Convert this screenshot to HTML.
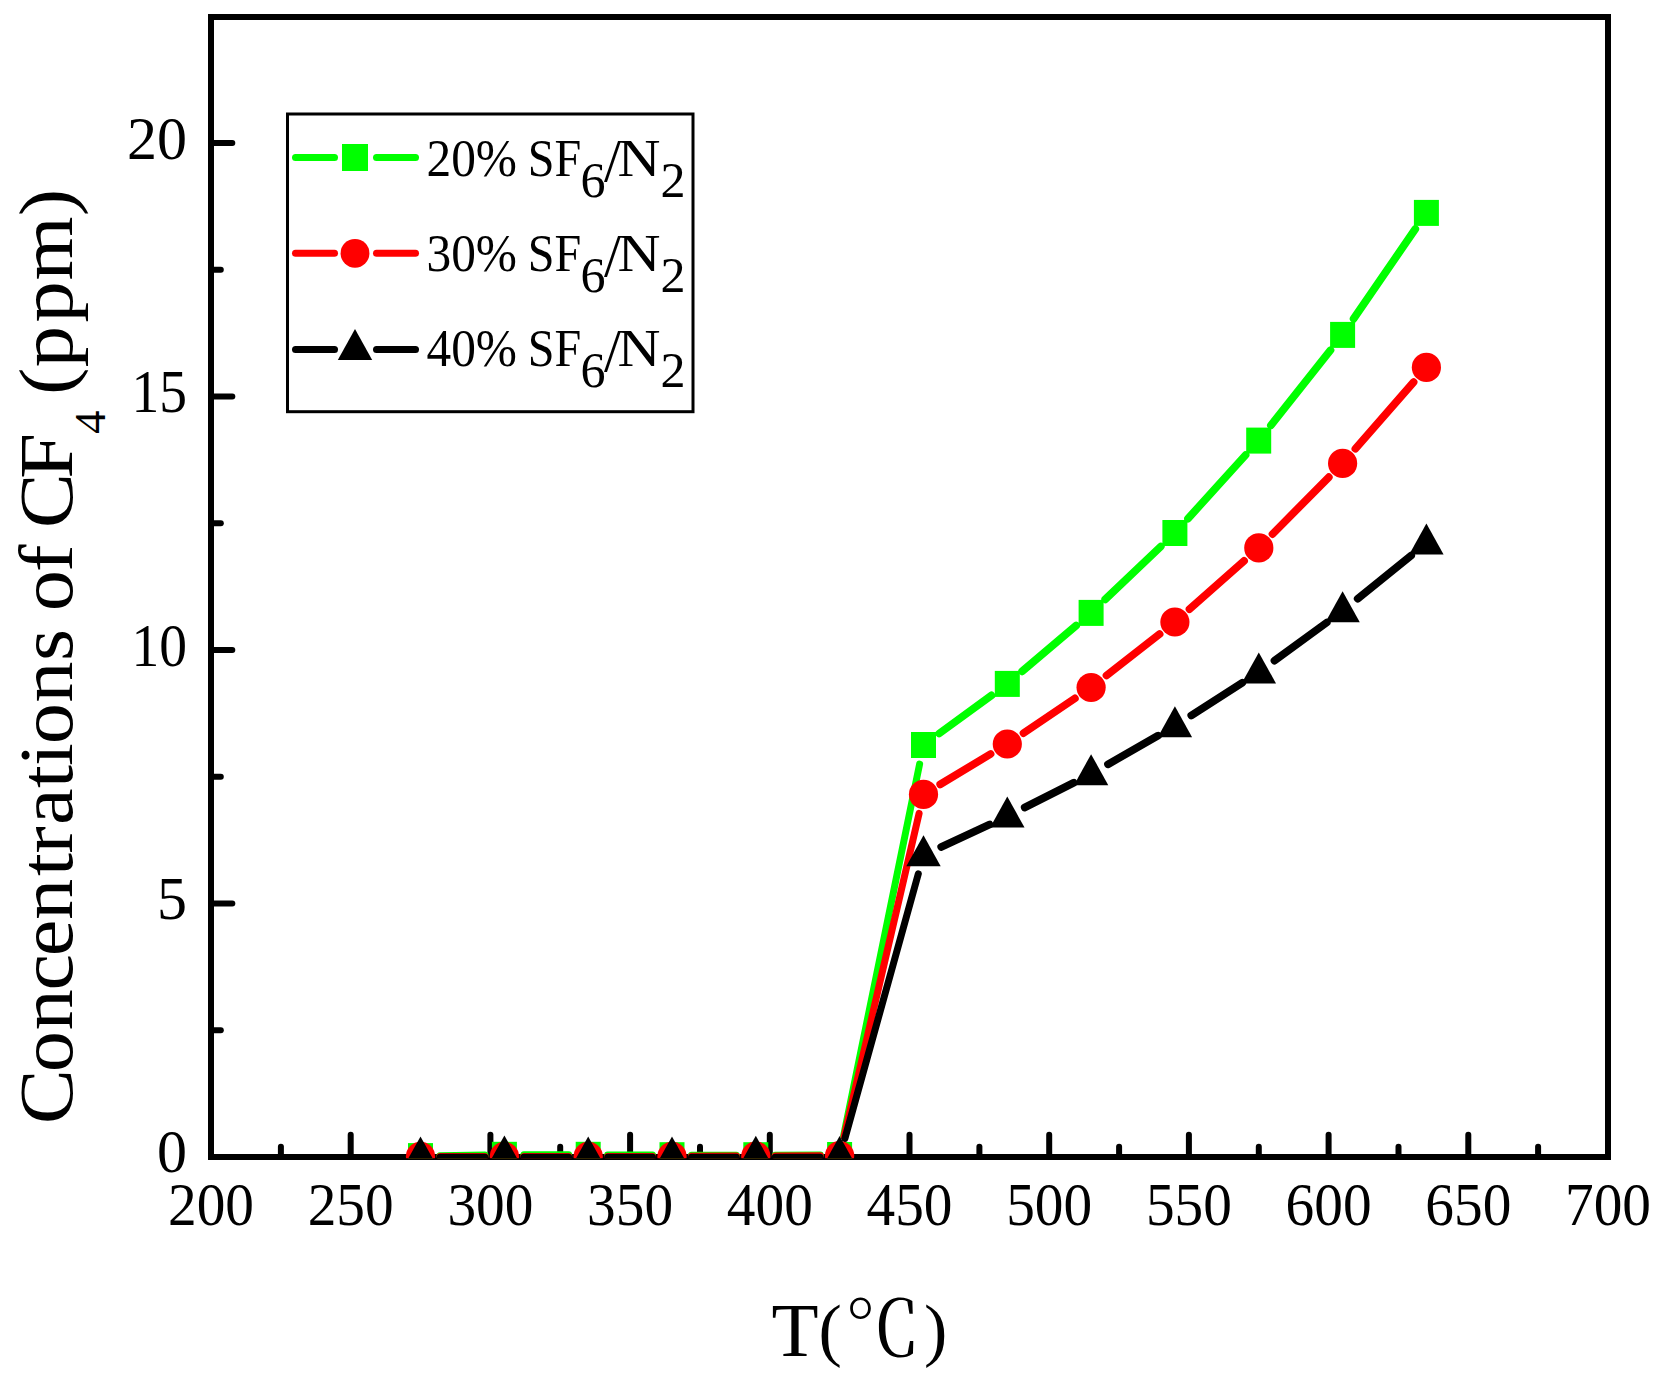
<!DOCTYPE html>
<html lang="en"><head><meta charset="utf-8"><title>Concentrations of CF4 versus temperature</title>
<style>
html,body{margin:0;padding:0;background:#fff;}
body{width:1663px;height:1384px;overflow:hidden;}
svg{display:block;}
text{font-family:"Liberation Serif","Noto Serif CJK SC",serif;fill:#000;}
.tk{font-size:62px;}
.ttl{font-size:77px;}
.lg{font-size:53px;}
.sub{font-size:50px;}
</style></head><body>
<svg width="1663" height="1384" viewBox="0 0 1663 1384">
<rect width="1663" height="1384" fill="#fff"/>
<defs><clipPath id="plot"><rect x="211.0" y="17.0" width="1397.0" height="1141.2"/></clipPath></defs>
<rect x="211.0" y="17.0" width="1397.0" height="1140.0" fill="none" stroke="#000" stroke-width="6"/>
<g stroke="#000" stroke-width="6" stroke-linecap="round"><line x1="211.0" y1="1157.0" x2="211.0" y2="1134.7"/><line x1="280.9" y1="1157.0" x2="280.9" y2="1146.7"/><line x1="350.7" y1="1157.0" x2="350.7" y2="1134.7"/><line x1="420.5" y1="1157.0" x2="420.5" y2="1146.7"/><line x1="490.4" y1="1157.0" x2="490.4" y2="1134.7"/><line x1="560.2" y1="1157.0" x2="560.2" y2="1146.7"/><line x1="630.1" y1="1157.0" x2="630.1" y2="1134.7"/><line x1="700.0" y1="1157.0" x2="700.0" y2="1146.7"/><line x1="769.8" y1="1157.0" x2="769.8" y2="1134.7"/><line x1="839.6" y1="1157.0" x2="839.6" y2="1146.7"/><line x1="909.5" y1="1157.0" x2="909.5" y2="1134.7"/><line x1="979.4" y1="1157.0" x2="979.4" y2="1146.7"/><line x1="1049.2" y1="1157.0" x2="1049.2" y2="1134.7"/><line x1="1119.1" y1="1157.0" x2="1119.1" y2="1146.7"/><line x1="1188.9" y1="1157.0" x2="1188.9" y2="1134.7"/><line x1="1258.8" y1="1157.0" x2="1258.8" y2="1146.7"/><line x1="1328.6" y1="1157.0" x2="1328.6" y2="1134.7"/><line x1="1398.5" y1="1157.0" x2="1398.5" y2="1146.7"/><line x1="1468.3" y1="1157.0" x2="1468.3" y2="1134.7"/><line x1="1538.1" y1="1157.0" x2="1538.1" y2="1146.7"/><line x1="1608.0" y1="1157.0" x2="1608.0" y2="1134.7"/><line x1="211.0" y1="1157.0" x2="232.3" y2="1157.0"/><line x1="211.0" y1="1030.2" x2="220.8" y2="1030.2"/><line x1="211.0" y1="903.5" x2="232.3" y2="903.5"/><line x1="211.0" y1="776.8" x2="220.8" y2="776.8"/><line x1="211.0" y1="650.0" x2="232.3" y2="650.0"/><line x1="211.0" y1="523.2" x2="220.8" y2="523.2"/><line x1="211.0" y1="396.5" x2="232.3" y2="396.5"/><line x1="211.0" y1="269.8" x2="220.8" y2="269.8"/><line x1="211.0" y1="143.0" x2="232.3" y2="143.0"/></g>
<g clip-path="url(#plot)">
<g stroke="#00ff00" stroke-width="7" stroke-linecap="round"><line x1="440.0" y1="1155.8" x2="484.9" y2="1155.1"/><line x1="523.9" y1="1154.8" x2="568.7" y2="1154.8"/><line x1="607.7" y1="1154.9" x2="652.5" y2="1155.1"/><line x1="691.5" y1="1155.2" x2="736.3" y2="1155.2"/><line x1="775.3" y1="1155.2" x2="820.2" y2="1155.0"/><line x1="843.6" y1="1135.9" x2="919.6" y2="764.1"/><line x1="939.2" y1="733.5" x2="991.5" y2="695.4" stroke-width="7.7"/><line x1="1022.2" y1="671.3" x2="1076.2" y2="625.5" stroke-width="7.7"/><line x1="1105.2" y1="599.4" x2="1160.8" y2="546.5" stroke-width="7.7"/><line x1="1188.0" y1="518.6" x2="1245.6" y2="455.0" stroke-width="7.7"/><line x1="1270.9" y1="425.3" x2="1330.5" y2="350.2" stroke-width="7.7"/><line x1="1353.6" y1="318.8" x2="1415.3" y2="229.0" stroke-width="7.7"/></g>
<g fill="#00ff00"><rect x="408.0" y="1143.1" width="25" height="26"/><rect x="491.9" y="1141.8" width="25" height="26"/><rect x="575.7" y="1141.8" width="25" height="26"/><rect x="659.5" y="1142.2" width="25" height="26"/><rect x="743.3" y="1142.2" width="25" height="26"/><rect x="827.1" y="1142.0" width="25" height="26"/><rect x="911.0" y="732.0" width="25" height="26"/><rect x="994.8" y="670.9" width="25" height="26"/><rect x="1078.6" y="599.9" width="25" height="26"/><rect x="1162.4" y="520.0" width="25" height="26"/><rect x="1246.2" y="427.6" width="25" height="26"/><rect x="1330.1" y="321.9" width="25" height="26"/><rect x="1413.9" y="199.9" width="25" height="26"/></g>
<g stroke="#ff0000" stroke-width="7" stroke-linecap="round"><line x1="440.0" y1="1156.4" x2="484.9" y2="1156.4"/><line x1="523.9" y1="1156.4" x2="568.7" y2="1156.4"/><line x1="607.7" y1="1156.4" x2="652.5" y2="1156.4"/><line x1="691.5" y1="1156.3" x2="736.3" y2="1156.1"/><line x1="775.3" y1="1155.9" x2="820.2" y2="1155.7"/><line x1="844.1" y1="1136.6" x2="919.1" y2="813.4"/><line x1="940.2" y1="784.4" x2="990.6" y2="754.0" stroke-width="7.7"/><line x1="1023.5" y1="733.1" x2="1074.9" y2="698.4" stroke-width="7.7"/><line x1="1106.5" y1="675.5" x2="1159.6" y2="634.0" stroke-width="7.7"/><line x1="1189.5" y1="609.1" x2="1244.1" y2="560.8" stroke-width="7.7"/><line x1="1272.5" y1="534.1" x2="1328.8" y2="477.2" stroke-width="7.7"/><line x1="1355.4" y1="448.7" x2="1413.6" y2="382.1" stroke-width="7.7"/></g>
<g fill="#ff0000"><circle cx="420.5" cy="1156.4" r="14.6"/><circle cx="504.4" cy="1156.4" r="14.6"/><circle cx="588.2" cy="1156.4" r="14.6"/><circle cx="672.0" cy="1156.4" r="14.6"/><circle cx="755.8" cy="1156.0" r="14.6"/><circle cx="839.6" cy="1155.6" r="14.6"/><circle cx="923.5" cy="794.4" r="14.6"/><circle cx="1007.3" cy="744.0" r="14.6"/><circle cx="1091.1" cy="687.5" r="14.6"/><circle cx="1174.9" cy="622.0" r="14.6"/><circle cx="1258.8" cy="547.9" r="14.6"/><circle cx="1342.6" cy="463.4" r="14.6"/><circle cx="1426.4" cy="367.4" r="14.6"/></g>
<g stroke="#000000" stroke-width="7" stroke-linecap="round"><line x1="440.0" y1="1157.3" x2="484.9" y2="1157.3"/><line x1="523.9" y1="1157.3" x2="568.7" y2="1157.3"/><line x1="607.7" y1="1157.3" x2="652.5" y2="1157.3"/><line x1="691.5" y1="1157.3" x2="736.3" y2="1157.3"/><line x1="775.3" y1="1157.3" x2="820.1" y2="1157.3"/><line x1="844.9" y1="1138.5" x2="918.3" y2="873.9"/><line x1="941.2" y1="846.9" x2="989.6" y2="824.5" stroke-width="7.7"/><line x1="1024.7" y1="807.5" x2="1073.7" y2="782.8" stroke-width="7.7"/><line x1="1108.0" y1="764.3" x2="1158.0" y2="735.7" stroke-width="7.7"/><line x1="1191.3" y1="715.5" x2="1242.3" y2="682.7" stroke-width="7.7"/><line x1="1274.5" y1="660.7" x2="1326.8" y2="622.5" stroke-width="7.7"/><line x1="1357.7" y1="598.7" x2="1411.2" y2="555.5" stroke-width="7.7"/></g>
<g fill="#000000"><polygon points="420.5,1136.4 403.3,1167.4 437.7,1167.4"/><polygon points="504.4,1135.4 487.2,1166.4 521.6,1166.4"/><polygon points="588.2,1136.4 571.0,1167.4 605.4,1167.4"/><polygon points="672.0,1136.4 654.8,1167.4 689.2,1167.4"/><polygon points="755.8,1135.8 738.6,1166.8 773.0,1166.8"/><polygon points="839.6,1136.0 822.4,1167.0 856.9,1167.0"/><polygon points="923.5,835.3 906.3,866.3 940.7,866.3"/><polygon points="1007.3,796.5 990.1,827.5 1024.5,827.5"/><polygon points="1091.1,754.2 1073.9,785.2 1108.3,785.2"/><polygon points="1174.9,706.2 1157.7,737.2 1192.1,737.2"/><polygon points="1258.8,652.4 1241.5,683.4 1276.0,683.4"/><polygon points="1342.6,591.2 1325.4,622.2 1359.8,622.2"/><polygon points="1426.4,523.4 1409.2,554.4 1443.6,554.4"/></g>
</g>
<text class="tk" x="211.0" y="1225" text-anchor="middle" textLength="86" lengthAdjust="spacingAndGlyphs">200</text>
<text class="tk" x="350.7" y="1225" text-anchor="middle" textLength="86" lengthAdjust="spacingAndGlyphs">250</text>
<text class="tk" x="490.4" y="1225" text-anchor="middle" textLength="86" lengthAdjust="spacingAndGlyphs">300</text>
<text class="tk" x="630.1" y="1225" text-anchor="middle" textLength="86" lengthAdjust="spacingAndGlyphs">350</text>
<text class="tk" x="769.8" y="1225" text-anchor="middle" textLength="86" lengthAdjust="spacingAndGlyphs">400</text>
<text class="tk" x="909.5" y="1225" text-anchor="middle" textLength="86" lengthAdjust="spacingAndGlyphs">450</text>
<text class="tk" x="1049.2" y="1225" text-anchor="middle" textLength="86" lengthAdjust="spacingAndGlyphs">500</text>
<text class="tk" x="1188.9" y="1225" text-anchor="middle" textLength="86" lengthAdjust="spacingAndGlyphs">550</text>
<text class="tk" x="1328.6" y="1225" text-anchor="middle" textLength="86" lengthAdjust="spacingAndGlyphs">600</text>
<text class="tk" x="1468.3" y="1225" text-anchor="middle" textLength="86" lengthAdjust="spacingAndGlyphs">650</text>
<text class="tk" x="1608.0" y="1225" text-anchor="middle" textLength="86" lengthAdjust="spacingAndGlyphs">700</text>
<text class="tk" x="187" y="1171.6" text-anchor="end" textLength="30" lengthAdjust="spacingAndGlyphs">0</text>
<text class="tk" x="187" y="919.2" text-anchor="end" textLength="30" lengthAdjust="spacingAndGlyphs">5</text>
<text class="tk" x="187" y="665.7" text-anchor="end" textLength="55.5" lengthAdjust="spacingAndGlyphs">10</text>
<text class="tk" x="187" y="412.2" text-anchor="end" textLength="55.5" lengthAdjust="spacingAndGlyphs">15</text>
<text class="tk" x="187" y="158.7" text-anchor="end" textLength="60" lengthAdjust="spacingAndGlyphs">20</text>
<text class="ttl" y="1356"><tspan x="771.5">T</tspan><tspan x="818.5" dy="-3.5" font-size="70">(</tspan><tspan x="844.5" dy="3.5" font-size="76">℃</tspan><tspan x="924" dy="-3.5" font-size="70">)</tspan></text>
<g transform="translate(71.5,0) rotate(-90) scale(1.07,1)">
<text class="ttl" y="0" x="-1050.7 -1002.1 -963.2 -925.8 -893.7 -859.8 -818.8 -797.8 -771.1 -736.5 -715.8 -695.5 -656.8 -617.7 -587.7 -571.2 -534.5 -508.9 -493.8 -447.4">Concentrations of CF</text>
<text x="-405.6" y="33" font-size="44">4</text>
<text class="ttl" y="0" x="-369.1 -343.3 -301.5 -262.1 -202.2">(ppm)</text>
</g>
<rect x="287.5" y="114" width="405.5" height="297.7" fill="#fff" stroke="#000" stroke-width="3"/>
<g stroke="#00ff00" stroke-width="7" stroke-linecap="round"><line x1="295.5" y1="157.4" x2="334.5" y2="157.4"/><line x1="376.5" y1="157.4" x2="415.5" y2="157.4"/></g>
<rect x="342" y="144.0" width="26" height="27" fill="#00ff00"/>
<text class="lg" y="176.1"><tspan x="426.5" textLength="90.5" lengthAdjust="spacingAndGlyphs">20%</tspan><tspan x="527.8" textLength="53.5" lengthAdjust="spacingAndGlyphs">SF</tspan><tspan class="sub" x="580.5" dy="20.5">6</tspan><tspan x="604" dy="-16" font-size="61">/</tspan><tspan x="617.5" dy="-4.5" textLength="43" lengthAdjust="spacingAndGlyphs">N</tspan><tspan class="sub" x="660.5" dy="20.5">2</tspan></text>
<g stroke="#ff0000" stroke-width="7" stroke-linecap="round"><line x1="295.5" y1="253.3" x2="334.5" y2="253.3"/><line x1="376.5" y1="253.3" x2="415.5" y2="253.3"/></g>
<circle cx="355" cy="253.3" r="14.4" fill="#ff0000"/>
<text class="lg" y="271.1"><tspan x="426.5" textLength="90.5" lengthAdjust="spacingAndGlyphs">30%</tspan><tspan x="527.8" textLength="53.5" lengthAdjust="spacingAndGlyphs">SF</tspan><tspan class="sub" x="580.5" dy="20.5">6</tspan><tspan x="604" dy="-16" font-size="61">/</tspan><tspan x="617.5" dy="-4.5" textLength="43" lengthAdjust="spacingAndGlyphs">N</tspan><tspan class="sub" x="660.5" dy="20.5">2</tspan></text>
<g stroke="#000000" stroke-width="7" stroke-linecap="round"><line x1="295.5" y1="349.6" x2="334.5" y2="349.6"/><line x1="376.5" y1="349.6" x2="415.5" y2="349.6"/></g>
<g fill="#000000"><polygon points="355.0,328.9 337.8,359.9 372.2,359.9"/></g>
<text class="lg" y="366.1"><tspan x="426.5" textLength="90.5" lengthAdjust="spacingAndGlyphs">40%</tspan><tspan x="527.8" textLength="53.5" lengthAdjust="spacingAndGlyphs">SF</tspan><tspan class="sub" x="580.5" dy="20.5">6</tspan><tspan x="604" dy="-16" font-size="61">/</tspan><tspan x="617.5" dy="-4.5" textLength="43" lengthAdjust="spacingAndGlyphs">N</tspan><tspan class="sub" x="660.5" dy="20.5">2</tspan></text>
</svg></body></html>
